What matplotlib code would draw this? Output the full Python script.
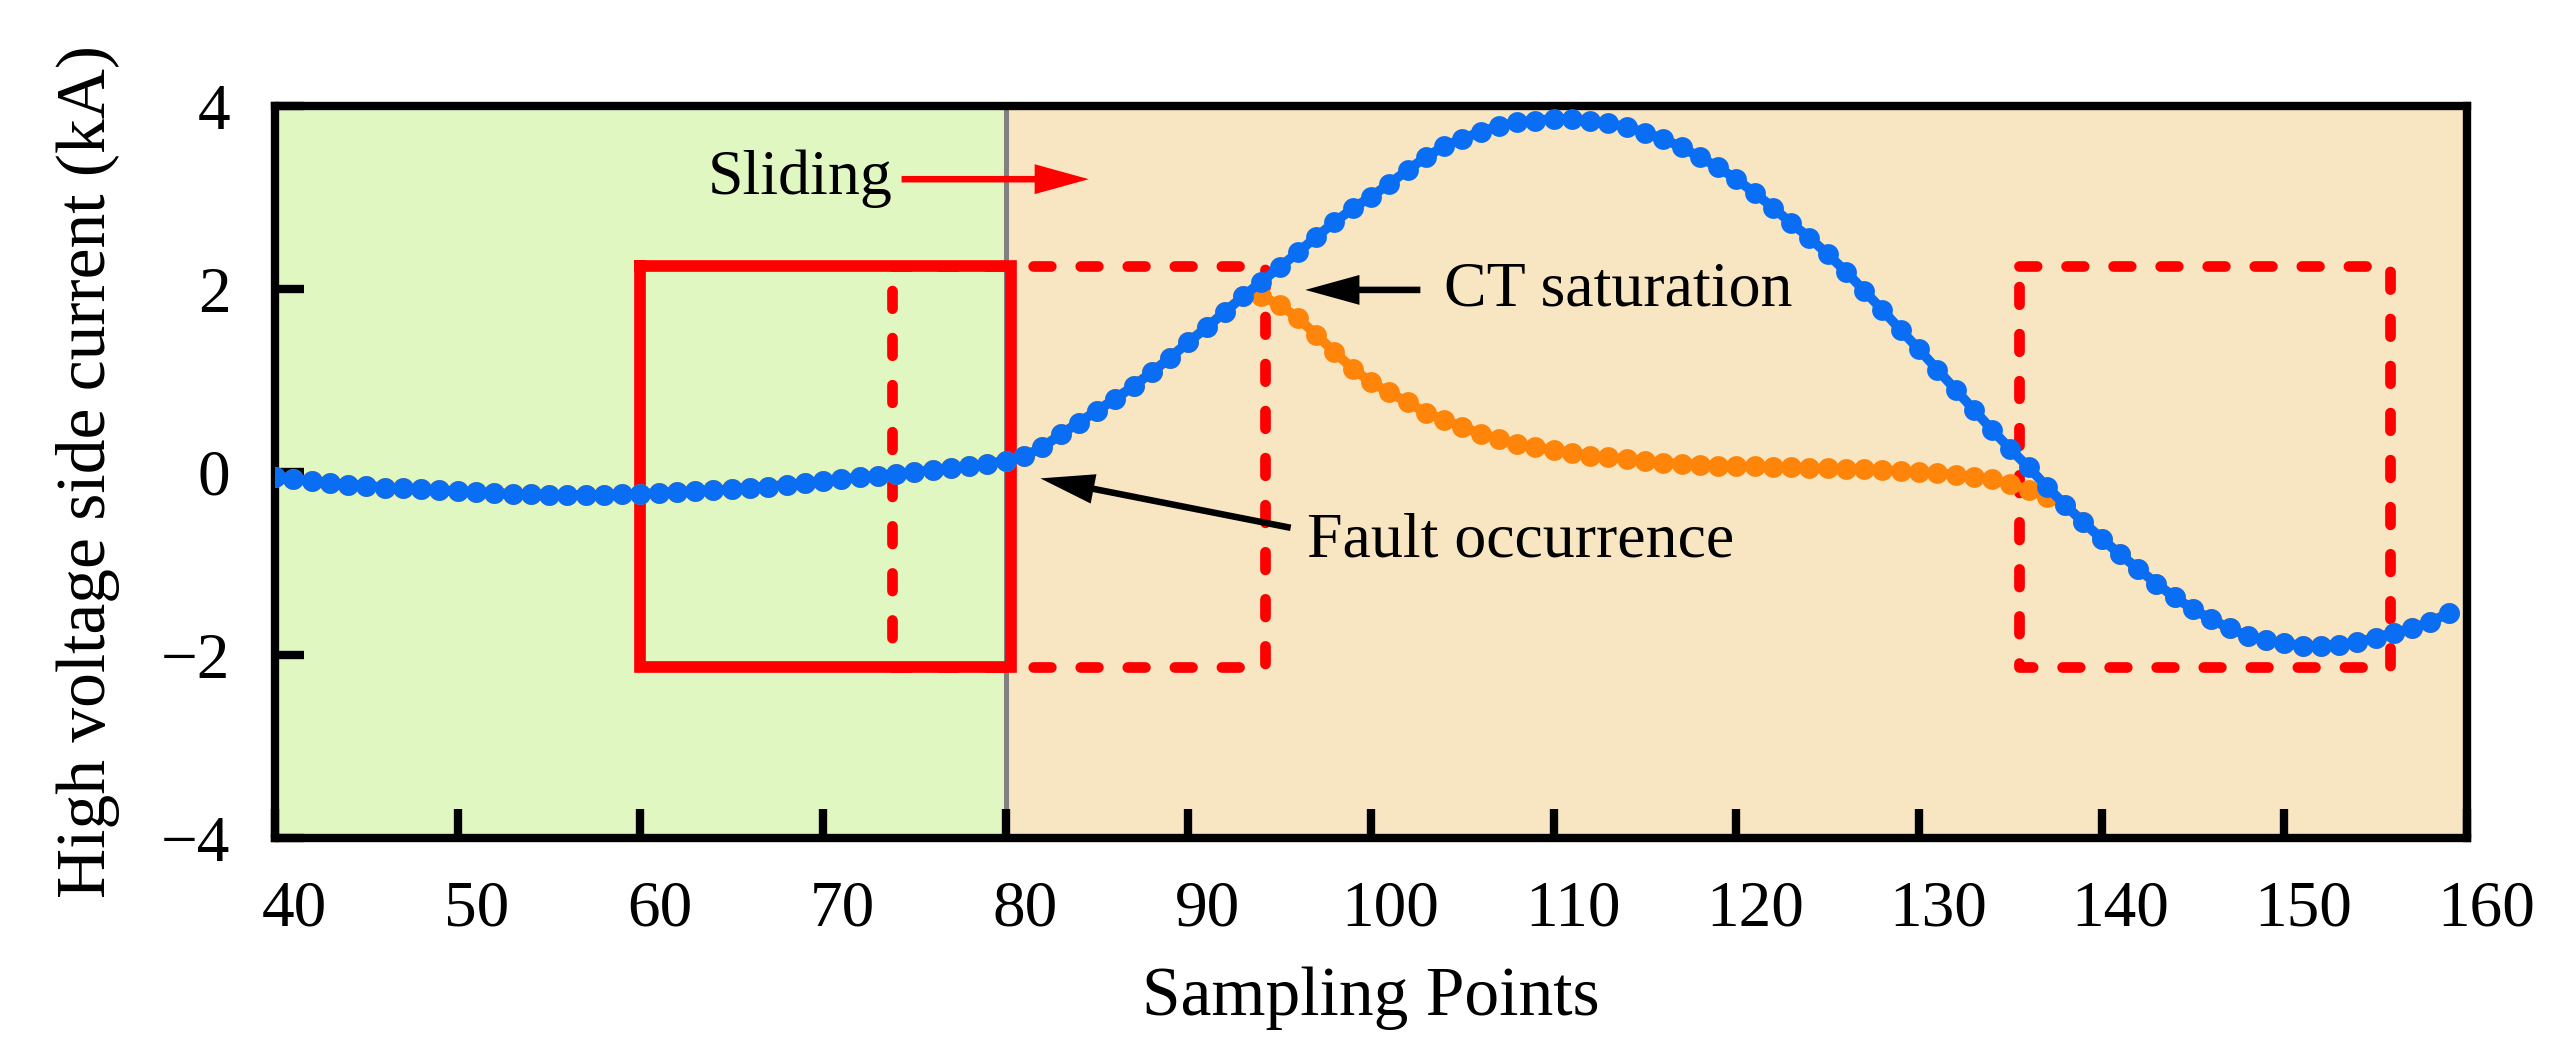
import matplotlib
matplotlib.use("Agg")
import matplotlib.pyplot as plt
import matplotlib.transforms as mtransforms
import numpy as np

plt.rcParams['font.family'] = ['Liberation Serif', 'DejaVu Serif']

# sampling points and measured currents (kA)
samples = np.arange(40, 160)
primary_current = [
    -0.06, -0.08, -0.10, -0.12, -0.14, -0.15, -0.17, -0.18, -0.19, -0.20,
    -0.21, -0.22, -0.23, -0.24, -0.24, -0.25, -0.25, -0.25, -0.25, -0.24,
    -0.24, -0.23, -0.22, -0.21, -0.20, -0.19, -0.17, -0.16, -0.14, -0.12,
    -0.10, -0.08, -0.06, -0.04, -0.02, 0.00, 0.02, 0.04, 0.06, 0.09,
    0.12, 0.17, 0.27, 0.41, 0.54, 0.67, 0.80, 0.94, 1.09, 1.25,
    1.42, 1.58, 1.75, 1.92, 2.08, 2.24, 2.40, 2.57, 2.73, 2.88,
    3.01, 3.15, 3.30, 3.44, 3.56, 3.64, 3.72, 3.78, 3.82, 3.84,
    3.86, 3.86, 3.84, 3.81, 3.77, 3.71, 3.64, 3.55, 3.44, 3.33,
    3.20, 3.05, 2.89, 2.72, 2.56, 2.38, 2.19, 1.98, 1.77, 1.55,
    1.34, 1.12, 0.90, 0.68, 0.46, 0.25, 0.05, -0.16, -0.36, -0.55,
    -0.73, -0.90, -1.06, -1.22, -1.37, -1.50, -1.61, -1.71, -1.79, -1.84,
    -1.87, -1.90, -1.90, -1.89, -1.86, -1.81, -1.76, -1.71, -1.64, -1.54,
]
# CT secondary during saturation (samples 94..137), otherwise equal to primary
sat_start = 94
saturated_current = [
    1.92, 1.83, 1.68, 1.50, 1.31, 1.13, 0.98, 0.87, 0.76, 0.65,
    0.57, 0.49, 0.42, 0.36, 0.31, 0.27, 0.24, 0.21, 0.18, 0.16,
    0.14, 0.12, 0.10, 0.09, 0.08, 0.07, 0.06, 0.06, 0.05, 0.05,
    0.04, 0.04, 0.03, 0.03, 0.02, 0.01, 0.00, -0.01, -0.03, -0.05,
    -0.08, -0.13, -0.20, -0.27,
]

# data windows (start, end) in samples
solid_window = (60, 80.3)
dashed_windows = [(73.8, 94.2), (135.5, 155.8)]
window_low, window_high = -2.13, 2.25
fault_point = 80

secondary = np.array(primary_current, dtype=float)
i0 = sat_start - samples[0]
secondary[i0:i0 + len(saturated_current)] = saturated_current

fig = plt.figure(figsize=(25.61, 10.61), dpi=100)
ax = fig.add_axes([0.1074, 0.2102, 0.8559, 0.6899])

ax.axvspan(40, fault_point, color='#E1F7C1', zorder=0, lw=0)
ax.axvspan(fault_point, 160, color='#F8E6C2', zorder=0, lw=0)
ax.axvline(fault_point, color='#808080', lw=3.6, zorder=1)

for a, b in dashed_windows:
    ax.plot([a, b, b, a, a], [window_high, window_high, window_low, window_low, window_high],
            color='#FF0000', lw=7.7, ls='--', dashes=(1.65, 2.75),
            dash_capstyle='round', zorder=2)
a, b = solid_window
ax.plot([a, b, b, a, a], [window_high, window_high, window_low, window_low, window_high],
        color='#FF0000', lw=8.4, solid_joinstyle='miter', zorder=3)

ax.plot(samples, secondary, color='#FF850A', lw=7, marker='o', ms=15,
        markeredgewidth=0, zorder=4)
ax.plot(samples, primary_current, color='#0A6EF5', lw=7, marker='o', ms=15,
        markeredgewidth=0, zorder=5)

# annotations (filled arrows, sizes in units of mutation_scale points)
head = 'simple,head_length=3.9,head_width=2.15,tail_width=0.47'
ax.annotate('', xy=(84.55, 3.2), xytext=(74.3, 3.2),
            arrowprops=dict(arrowstyle=head, color='#FF0000', lw=0,
                            mutation_scale=10, shrinkA=0, shrinkB=0), zorder=6)
ax.text(63.7, 3.2, 'Sliding', fontsize=46, ha='left', va='center', zorder=6)

ax.annotate('', xy=(96.4, 1.99), xytext=(102.7, 1.99),
            arrowprops=dict(arrowstyle=head, color='black', lw=0,
                            mutation_scale=10, shrinkA=0, shrinkB=0), zorder=6)
ax.text(104.0, 1.98, 'CT saturation', fontsize=46, ha='left', va='center', zorder=6)

ax.annotate('', xy=(81.9, -0.07), xytext=(95.6, -0.61),
            arrowprops=dict(arrowstyle=head, color='black', lw=0,
                            mutation_scale=10, shrinkA=0, shrinkB=0), zorder=6)
ax.text(96.5, -0.76, 'Fault occurrence', fontsize=46, ha='left', va='center', zorder=6)

ax.set_xlim(40, 160)
ax.set_ylim(-4, 4)
ax.set_xticks(np.arange(40, 161, 10))
ax.set_yticks(np.arange(-4, 5, 2))
ax.set_yticklabels(['\u22124', '\u22122', '0', '2', '4'])
ax.tick_params(direction='in', length=21, width=6, labelsize=47, pad=32)
ax.tick_params(axis='x', pad=30)
shift = mtransforms.ScaledTranslation(0.19, 0, fig.dpi_scale_trans)
for lab in ax.get_xticklabels():
    lab.set_transform(lab.get_transform() + shift)
for s in ax.spines.values():
    s.set_linewidth(6)
ax.set_xlabel('Sampling Points', fontsize=50, labelpad=20)
ax.set_ylabel('High voltage side current (kA)', fontsize=50, labelpad=30)

fig.savefig('out.png', dpi=100)
